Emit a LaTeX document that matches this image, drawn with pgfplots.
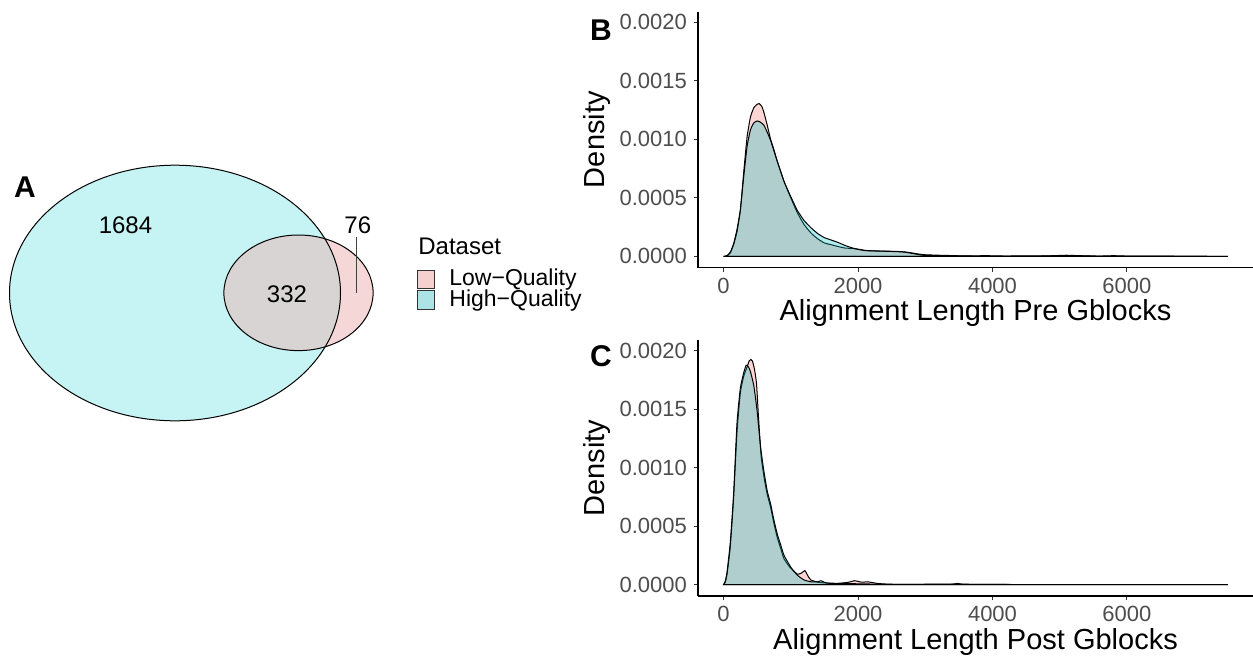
\documentclass[border=0pt]{standalone}
\usepackage{fontspec}
\setmainfont{Liberation Sans}
\usepackage{pgfplots}
\usepackage{pgfplotstable}
\pgfplotsset{compat=1.18}
\definecolor{lqc}{HTML}{F8766D}
\definecolor{hqc}{HTML}{00BFC4}
\definecolor{vhq}{HTML}{C6F4F4}
\definecolor{vlq}{HTML}{F5D7D7}
\definecolor{vov}{HTML}{D9D4D4}
\definecolor{legl}{HTML}{F6D0CE}
\definecolor{legh}{HTML}{ACE4E5}
\definecolor{tickgray}{HTML}{4D4D4D}
\definecolor{tickline}{HTML}{333333}

% Panel B: Pre Gblocks densities
\pgfplotstableread{
x y
0 0
50 0.000005
100 0.00003
150 0.0001
200 0.00021
250 0.00039
300 0.00072
350 0.00102
400 0.00119
450 0.00127
500 0.0013
530 0.001305
570 0.00128
600 0.00123
650 0.00112
700 0.00100
750 0.00091
800 0.00081
900 0.00064
1000 0.0005
1100 0.00037
1200 0.00027
1300 0.0002
1400 0.00015
1500 0.000115
1600 0.0001
1700 0.000085
1800 0.000072
1900 0.000068
2000 0.000062
2100 0.000052
2200 0.000048
2400 0.000045
2600 0.000042
2700 0.000038
2800 0.00003
2900 0.00002
3000 0.000014
3200 0.00001
3400 0.000007
3600 0.000004
3900 0.000006
4200 0.000003
4600 0.000002
4900 0.000006
5100 0.00001
5300 0.000006
5600 0.000003
5800 0.000006
6000 0.000003
6500 0.000002
7000 0.000002
7500 0
}\preLow
\pgfplotstableread{
x y
0 0
50 0.000006
100 0.000035
150 0.00011
200 0.00023
250 0.0004
300 0.00068
350 0.00094
400 0.00108
450 0.00114
500 0.001157
540 0.00115
600 0.00112
650 0.00106
700 0.00099
750 0.0009
800 0.00081
900 0.00064
1000 0.00051
1100 0.00039
1200 0.000305
1300 0.000245
1400 0.000195
1500 0.00016
1600 0.00014
1700 0.00012
1800 0.000095
1900 0.000075
2000 0.00006
2100 0.00005
2200 0.000047
2400 0.000044
2600 0.00004
2700 0.000036
2800 0.000026
2900 0.000016
3000 0.00001
3200 0.000006
3500 0.000004
4000 0.000003
5000 0.000005
5200 0.000007
5500 0.000003
6000 0.000002
7000 0.000001
7500 0
}\preHigh

% Panel C: Post Gblocks densities
\pgfplotstableread{
x y
0 0
25 0.00002
50 0.00008
100 0.00032
150 0.00074
200 0.0013
250 0.00164
300 0.00178
350 0.00186
380 0.00191
405 0.001924
430 0.00191
460 0.00184
490 0.00172
520 0.00143
560 0.00109
610 0.00089
650 0.00077
700 0.00066
750 0.00052
800 0.0004
850 0.00031
900 0.00022
1000 0.00014
1100 0.00009
1160 0.0001
1210 0.00012
1260 0.00007
1300 0.00004
1400 0.000022
1500 0.000015
1700 0.000012
1850 0.00002
1950 0.000034
2050 0.000022
2150 0.000024
2300 0.00001
2500 0.000004
3000 0.000002
3400 0.000004
3480 0.000012
3560 0.000003
4000 0.000003
4500 0.000001
7500 0
}\postLow
\pgfplotstableread{
x y
0 0
25 0.00003
50 0.0001
100 0.00036
150 0.00078
200 0.00138
250 0.00168
300 0.00181
336 0.001875
370 0.00186
400 0.00182
450 0.0017
500 0.00148
550 0.00118
600 0.00097
650 0.0008
700 0.00069
750 0.00055
800 0.00043
850 0.00034
900 0.00025
1000 0.00015
1100 0.00008
1200 0.00004
1300 0.000025
1400 0.000025
1450 0.000034
1500 0.00002
1600 0.00001
2000 0.000008
2500 0.000003
3500 0.000005
4000 0.000002
7500 0
}\postHigh

\pgfplotsset{densax/.style={
  scale only axis, width=277.5pt, height=128pt,
  xmin=-380, xmax=7875, ymin=-0.0000965, ymax=0.00209,
  axis x line*=bottom, axis y line*=left,
  axis line style={black, line width=0.6pt},
  xtick={0,2000,4000,6000}, xticklabels={0,2000,4000,6000},
  ytick={0,0.0005,0.001,0.0015,0.002},
  yticklabels={0.0000,0.0005,0.0010,0.0015,0.0020},
  scaled x ticks=false, scaled y ticks=false,
  tick align=outside, major tick length=2pt,
  every tick/.append style={tickline, line width=0.5pt},
  tick label style={font=\fontsize{11}{12}\selectfont, text=tickgray},
  xticklabel style={yshift=0.5pt},
  label style={font=\fontsize{14.5}{16}\selectfont},
  xlabel style={at={(axis description cs:0.5,-0.178)}, anchor=center},
  ylabel style={at={(axis description cs:-0.182,0.5)}, anchor=center},
  clip=false,
  lowst/.style={draw=black, line width=0.5pt, fill=lqc, fill opacity=0.3, smooth, tension=0.3},
  highst/.style={draw=black, line width=0.5pt, fill=hqc, fill opacity=0.3, smooth, tension=0.3},
}}

\begin{document}
\begin{tikzpicture}
\useasboundingbox (0,0) rectangle (626.5pt,327.5pt);

% Panel A: Venn diagram and legend
\begin{axis}[at={(0pt,0pt)}, anchor=south west, scale only axis,
  width=290pt, height=327.5pt, xmin=0, xmax=580, ymin=0, ymax=655,
  y dir=reverse, hide axis, clip=false]
\fill[vhq] (axis cs:175,293) ellipse [x radius=82.75pt, y radius=63.9pt];
\fill[vlq] (axis cs:298.5,292.8) ellipse [x radius=37.3pt, y radius=28.9pt];
\begin{scope}
\clip (axis cs:175,293) ellipse [x radius=82.75pt, y radius=63.9pt];
\fill[vov] (axis cs:298.5,292.8) ellipse [x radius=37.3pt, y radius=28.9pt];
\end{scope}
\draw[black, line width=0.5pt] (axis cs:175,293) ellipse [x radius=82.75pt, y radius=63.9pt];
\draw[black, line width=0.5pt] (axis cs:298.5,292.8) ellipse [x radius=37.3pt, y radius=28.9pt];
\node[font=\fontsize{12}{14}\selectfont] at (axis cs:125.5,225) {1684};
\node[font=\fontsize{12}{14}\selectfont] at (axis cs:287,294) {332};
\node[font=\fontsize{12}{14}\selectfont] at (axis cs:357.8,225) {76};
\draw[black!75, line width=0.5pt] (axis cs:356.7,237) -- (axis cs:356.7,293);
\node[font=\bfseries\fontsize{15}{16}\selectfont] at (axis cs:25,186.7) {A};
% legend
\node[anchor=west, inner sep=0pt, font=\fontsize{12}{14}\selectfont] at (axis cs:418,246) {Dataset};
\draw[fill=legl, draw=black!80, line width=0.4pt] (axis cs:417,270) rectangle (axis cs:434,288.5);
\draw[fill=legh, draw=black!80, line width=0.4pt] (axis cs:417,290.5) rectangle (axis cs:434,309);
\node[anchor=west, inner sep=0pt, font=\fontsize{11.5}{13}\selectfont] at (axis cs:449,280) {Low−Quality};
\node[anchor=west, inner sep=0pt, font=\fontsize{11.5}{13}\selectfont] at (axis cs:449,300.5) {High−Quality};
\end{axis}

% Panel B
\begin{axis}[densax, at={(349pt,193.65pt)}, anchor=south west,
  xlabel={Alignment Length Pre Gblocks}, ylabel={Density}]
\addplot[lowst] table[x=x,y=y] {\preLow} \closedcycle;
\addplot[highst] table[x=x,y=y] {\preHigh} \closedcycle;
\node[font=\bfseries\fontsize{15}{16}\selectfont] at (axis description cs:-0.175,0.9285) {B};
\end{axis}

% Panel C
\begin{axis}[densax, at={(349pt,29.5pt)}, anchor=south west,
  xlabel={Alignment Length Post Gblocks}, ylabel={Density}]
\addplot[lowst] table[x=x,y=y] {\postLow} \closedcycle;
\addplot[highst] table[x=x,y=y] {\postHigh} \closedcycle;
\node[font=\bfseries\fontsize{15}{16}\selectfont] at (axis description cs:-0.175,0.935) {C};
\end{axis}
\end{tikzpicture}
\end{document}
